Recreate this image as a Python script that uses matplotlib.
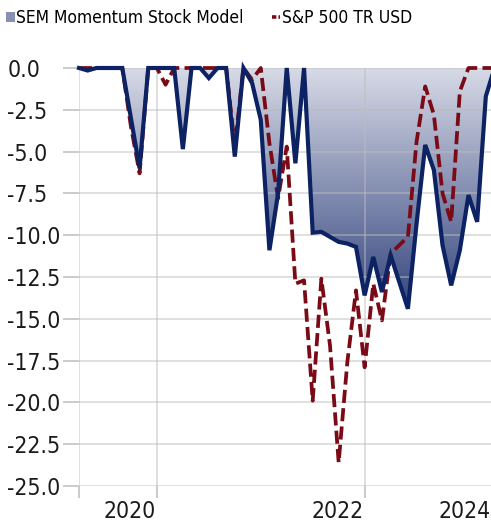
import numpy as np
import matplotlib
matplotlib.use('Agg')
import matplotlib.pyplot as plt
from matplotlib.colors import LinearSegmentedColormap
from matplotlib.patches import Patch
from matplotlib.lines import Line2D
from matplotlib.ticker import FormatStrFormatter

plt.rcParams['font.family'] = ['DejaVu Sans']
plt.rcParams['font.stretch'] = 'condensed'
plt.rcParams['axes.unicode_minus'] = False

# monthly drawdown (%), Mar 2020 .. Mar 2024
sem_drawdown = [0, -0.15, 0, 0, 0, 0, -3.0, -6.0, 0, 0, 0, 0,
                -4.85, 0, 0, -0.6, 0, 0, -5.3, 0, -0.9, -3.1, -10.9, -7.5,
                0, -5.7, 0, -9.85, -9.8, -10.1, -10.4, -10.5, -10.7, -13.6, -11.3, -13.4,
                -11.2, -12.8, -14.4, -9.3, -4.6, -6.1, -10.6, -13.0, -10.9, -7.6, -9.2, -1.7,
                0]
spx_drawdown = [0, 0, 0, 0, 0, 0, -3.5, -6.3, 0, 0, -1.0, 0,
                0, 0, 0, 0, 0, 0, -4.7, 0, -0.7, 0, -4.5, -7.8,
                -4.7, -12.9, -12.7, -19.9, -12.6, -16.6, -23.6, -17.6, -13.3, -17.9, -12.9, -15.1,
                -11.1, -10.6, -10.1, -4.4, -1.1, -2.8, -7.5, -9.2, -1.4, 0, 0, 0,
                0]
year_labels = ['2020', '2022', '2024']
year_label_pos = [5.8, 29.9, 44.5]   # label centres (month index)
year_grid_pos = [0, 9, 33]           # vertical gridlines (month index)
y_ticks = np.arange(-25, 0.1, 2.5)

navy = '#0d2263'
maroon = '#7a0b16'
grid_c = '#bdbdbd'

x = np.arange(len(sem_drawdown))

fig = plt.figure(figsize=(4.91, 5.23), dpi=100)
ax = fig.add_axes([79 / 491, 1 - 486 / 523, 1 - 79 / 491, (486 - 68) / 523])

# gradient fill under the SEM line
fill = ax.fill_between(x, sem_drawdown, 0, color='none', lw=0)
cmap = LinearSegmentedColormap.from_list('sem', ['#d7dae6', '#34457e'])
grad = np.linspace(0, 1, 256).reshape(-1, 1)
im = ax.imshow(grad, extent=[0, x[-1], min(sem_drawdown), 0], aspect='auto',
               cmap=cmap, origin='upper', zorder=0.3, interpolation='bilinear')
im.set_clip_path(fill.get_paths()[0], transform=ax.transData)

ax.plot(x, spx_drawdown, color=maroon, lw=2.7, dashes=(3.5, 1.4),
        dash_capstyle='butt', zorder=3, clip_on=False)
ax.plot(x, sem_drawdown, color=navy, lw=3.0, solid_joinstyle='miter', zorder=4, clip_on=False)

ax.set_xlim(0, 47.6)
ax.set_ylim(-25, 0)

for s in ax.spines.values():
    s.set_visible(False)

ax.set_yticks(y_ticks)
ax.yaxis.set_major_formatter(FormatStrFormatter('%.1f'))
ax.tick_params(axis='y', length=11.5, width=1.1, color=grid_c, pad=40,
               labelsize=16.5, labelcolor='#1a1a1a')
for lbl in ax.get_yticklabels():
    lbl.set_horizontalalignment('left')

ax.set_xticks(year_label_pos)
ax.set_xticklabels(year_labels)
ax.set_xticks(year_grid_pos, minor=True)
ax.tick_params(axis='x', which='major', length=0, pad=10, labelsize=16.5, labelcolor='#1a1a1a')
ax.tick_params(axis='x', which='minor', length=8.6, width=1.1, color=grid_c)

ax.set_axisbelow(True)
ax.grid(axis='y', which='major', color=grid_c, lw=1.1, alpha=0.6)
ax.grid(axis='x', which='minor', color=grid_c, lw=1.1, alpha=0.6)
ax.grid(axis='x', which='major', visible=False)

handles = [Patch(facecolor='#8790b3', edgecolor='none'),
           Line2D([], [], color=maroon, lw=2.6, dashes=(1.2, 0.6), dash_capstyle='butt')]
fig.legend(handles, ['SEM Momentum Stock Model', 'S&P 500 TR USD'], ncol=2,
           loc='center left', bbox_to_anchor=(6 / 491, 1 - 18 / 523), frameon=False,
           fontsize=12.5, handlelength=0.5, handleheight=0.5, handletextpad=0.1,
           columnspacing=1.6, borderpad=0, borderaxespad=0)

fig.savefig('out.png', dpi=100)
